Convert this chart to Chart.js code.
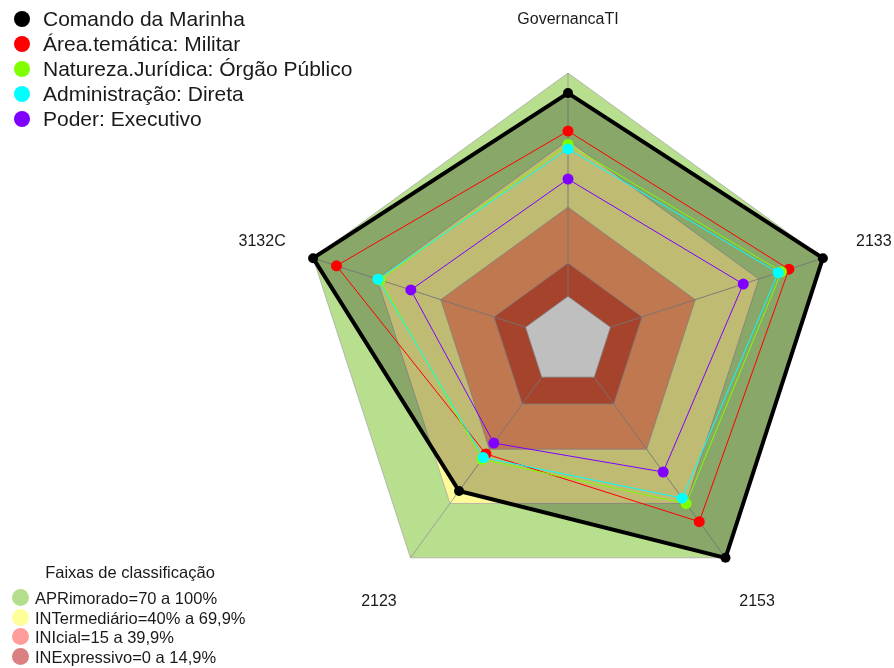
<!DOCTYPE html>
<html>
<head>
<meta charset="utf-8">
<script src="https://cdn.jsdelivr.net/npm/chart.js@4.4.1/dist/chart.umd.min.js"></script>
<style>
  body { margin: 0; background: #fff; font-family: Arial, "Liberation Sans", sans-serif; color: #1a1a1a; }
  #wrap { position: relative; width: 894px; height: 668px; }
  #legendSeries { position: absolute; left: 14px; top: 6px; font-size: 21px; }
  #legendSeries .row { height: 25px; line-height: 25px; white-space: nowrap; }
  #legendSeries .dot { display: inline-block; width: 16px; height: 16px; border-radius: 50%; margin-right: 13px; vertical-align: -1px; }
  #legendBands { position: absolute; left: 12px; top: 561px; font-size: 16.5px; }
  #legendBands .title { width: 236px; text-align: center; height: 22px; line-height: 22px; margin-bottom: 6px; }
  #legendBands .row { height: 19.6px; line-height: 19.6px; white-space: nowrap; }
  #legendBands .dot { display: inline-block; width: 17px; height: 17px; border-radius: 50%; margin-right: 6px; vertical-align: -2px; }
</style>
</head>
<body>
<div id="wrap">
  <canvas id="radarChart"></canvas>
  <div id="legendSeries"></div>
  <div id="legendBands"></div>
</div>
<script>
const axisLabels = ["GovernancaTI", "2133", "2153", "2123", "3132C"];

const comandoMarinha = [91, 100, 100, 63, 100];
const areaMilitar = [74, 84, 80, 42.5, 89];
const naturezaOrgao = [68, 80.5, 70, 45.5, 68.5];
const adminDireta = [66, 79, 67, 44.5, 69.5];
const poderExecutivo = [52.5, 62.5, 52.5, 36.5, 54];

const seriesNames = [
  "Comando da Marinha",
  "Área.temática: Militar",
  "Natureza.Jurídica: Órgão Público",
  "Administração: Direta",
  "Poder: Executivo"
];
const seriesValues = [comandoMarinha, areaMilitar, naturezaOrgao, adminDireta, poderExecutivo];
const seriesColors = ["#000000", "#ff0000", "#7fff00", "#00ffff", "#8000ff"];

const bandTitle = "Faixas de classificação";
const bandNames = [
  "APRimorado=70 a 100%",
  "INTermediário=40% a 69,9%",
  "INIcial=15 a 39,9%",
  "INExpressivo=0 a 14,9%"
];
const bandLimits = [100, 69.9, 39.9, 14.9];
const bandFills = ["#b7df8d", "#fffa99", "#ffa06b", "#de5a3b"];
const bandLegendColors = ["#b5de8c", "#ffff99", "#ff9c9c", "#db8080"];

const datasets = [];

// faixas de fundo, da maior para a menor
bandLimits.forEach((lim, i) => {
  datasets.push({
    label: bandNames[i],
    data: axisLabels.map(() => lim),
    backgroundColor: bandFills[i],
    borderColor: "rgba(170,170,170,0.8)",
    borderWidth: 1,
    pointRadius: 0,
    fill: "start",
    order: 30 - i
  });
});

// centro branco (fica cinza por baixo do preenchimento do Comando)
const centerIndex = datasets.length;
datasets.push({
  label: "centro",
  data: axisLabels.map(() => 0),
  backgroundColor: "#ffffff",
  borderColor: "rgba(170,170,170,0.8)",
  borderWidth: 1,
  pointRadius: 0,
  fill: "start",
  order: 20
});

seriesNames.forEach((name, i) => {
  const isMain = i === 0;
  datasets.push({
    label: name,
    data: seriesValues[i],
    borderColor: seriesColors[i],
    backgroundColor: isMain ? "rgba(0,0,0,0.25)" : seriesColors[i],
    pointBackgroundColor: seriesColors[i],
    pointBorderWidth: 0,
    pointRadius: isMain ? 5 : 5.5,
    borderWidth: isMain ? 4 : 1,
    fill: isMain ? "start" : false,
    order: 10 - i
  });
});

const spokesPlugin = {
  id: "spokes",
  afterDatasetDraw(chart, args) {
    if (args.index !== centerIndex) return;
    const scale = chart.scales.r;
    const ctx = chart.ctx;
    ctx.save();
    ctx.strokeStyle = "rgba(155,155,155,0.9)";
    ctx.lineWidth = 1;
    axisLabels.forEach((_, i) => {
      const a = scale.getPointPositionForValue(i, 0);
      const b = scale.getPointPositionForValue(i, 100);
      ctx.beginPath();
      ctx.moveTo(a.x, a.y);
      ctx.lineTo(b.x, b.y);
      ctx.stroke();
    });
    ctx.restore();
  }
};

const axisLabelPlugin = {
  id: "axisLabels",
  afterDraw(chart) {
    const scale = chart.scales.r;
    const ctx = chart.ctx;
    ctx.save();
    ctx.font = "16px Arial, 'Liberation Sans', sans-serif";
    ctx.fillStyle = "#1a1a1a";
    ctx.textAlign = "center";
    ctx.textBaseline = "middle";
    axisLabels.forEach((lbl, i) => {
      const p = scale.getPointPositionForValue(i, 124);
      ctx.fillText(lbl, p.x, p.y);
    });
    ctx.restore();
  }
};

new Chart(document.getElementById("radarChart"), {
  type: "radar",
  data: { labels: axisLabels, datasets: datasets },
  options: {
    responsive: true,
    maintainAspectRatio: false,
    animation: false,
    layout: { padding: { top: 73, bottom: 58, left: 268, right: 26 } },
    elements: { line: { tension: 0 } },
    plugins: { legend: { display: false }, tooltip: { enabled: false } },
    scales: {
      r: {
        min: -20,
        max: 100,
        ticks: { display: false },
        grid: { display: false },
        angleLines: { display: false },
        pointLabels: { display: false }
      }
    }
  },
  plugins: [spokesPlugin, axisLabelPlugin]
});

const legendSeries = document.getElementById("legendSeries");
seriesNames.forEach((name, i) => {
  const row = document.createElement("div");
  row.className = "row";
  row.innerHTML = `<span class="dot" style="background:${seriesColors[i]}"></span>${name}`;
  legendSeries.appendChild(row);
});

const legendBands = document.getElementById("legendBands");
const title = document.createElement("div");
title.className = "title";
title.textContent = bandTitle;
legendBands.appendChild(title);
bandNames.forEach((name, i) => {
  const row = document.createElement("div");
  row.className = "row";
  row.innerHTML = `<span class="dot" style="background:${bandLegendColors[i]}"></span>${name}`;
  legendBands.appendChild(row);
});
</script>
</body>
</html>
